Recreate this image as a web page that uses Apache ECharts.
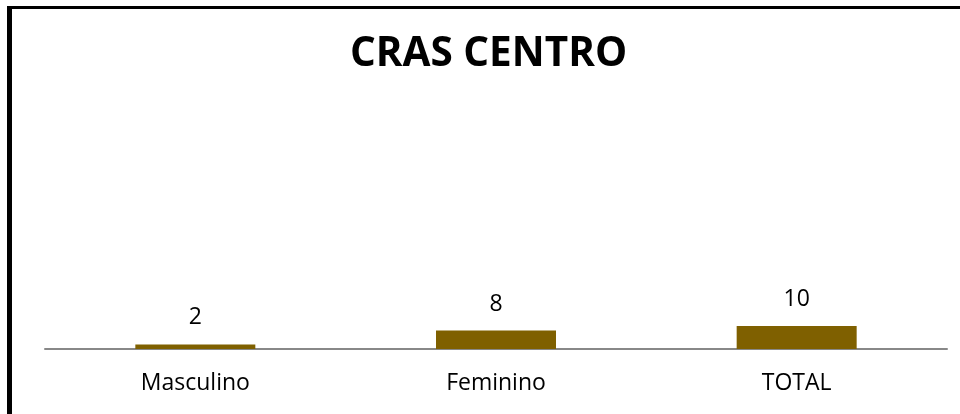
<!DOCTYPE html>
<html>
<head>
<meta charset="utf-8">
<script src="https://cdn.jsdelivr.net/npm/echarts@6/dist/echarts.min.js"></script>
<style>
  html, body { margin: 0; padding: 0; background: #fff; }
  #main { position: absolute; left: 0; top: 0; width: 960px; height: 414px; }
  /* moldura do gráfico */
  #frame {
    position: absolute; left: 7px; top: 6px; width: 953px; height: 406px;
    border-top: 3px solid #000; border-left: 5px solid #000; border-bottom: 1px solid #222;
    pointer-events: none;
  }
</style>
</head>
<body>
<div id="main"></div>
<div id="frame"></div>
<script>
// dados
const categories = ['Masculino', 'Feminino', 'TOTAL'];
const values = [2, 8, 10];

const myChart = echarts.init(document.getElementById('main'));
const option = {
  backgroundColor: '#fff',
  animation: false,
  title: {
    text: 'CRAS CENTRO',
    left: 350,
    top: 34,
    padding: 0,
    textStyle: {
      fontFamily: 'Open Sans',
      fontWeight: 'bold',
      fontSize: 40.5,
      color: '#000'
    }
  },
  grid: { left: 45, right: 13, top: 119, bottom: 65 },
  xAxis: {
    type: 'category',
    data: categories,
    axisTick: { show: false },
    axisLine: { lineStyle: { color: '#888', width: 2 } },
    axisLabel: {
      margin: 23,
      color: '#000',
      fontFamily: 'Open Sans',
      fontSize: 23
    }
  },
  yAxis: {
    type: 'value',
    min: 0,
    max: 100,
    show: false,
    splitLine: { show: false }
  },
  series: [
    {
      type: 'bar',
      data: values,
      barWidth: 120,
      itemStyle: { color: '#7f6000' },
      label: {
        show: true,
        position: 'top',
        distance: 15,
        color: '#000',
        fontFamily: 'Open Sans',
        fontSize: 23
      }
    }
  ]
};
myChart.setOption(option);
</script>
</body>
</html>
